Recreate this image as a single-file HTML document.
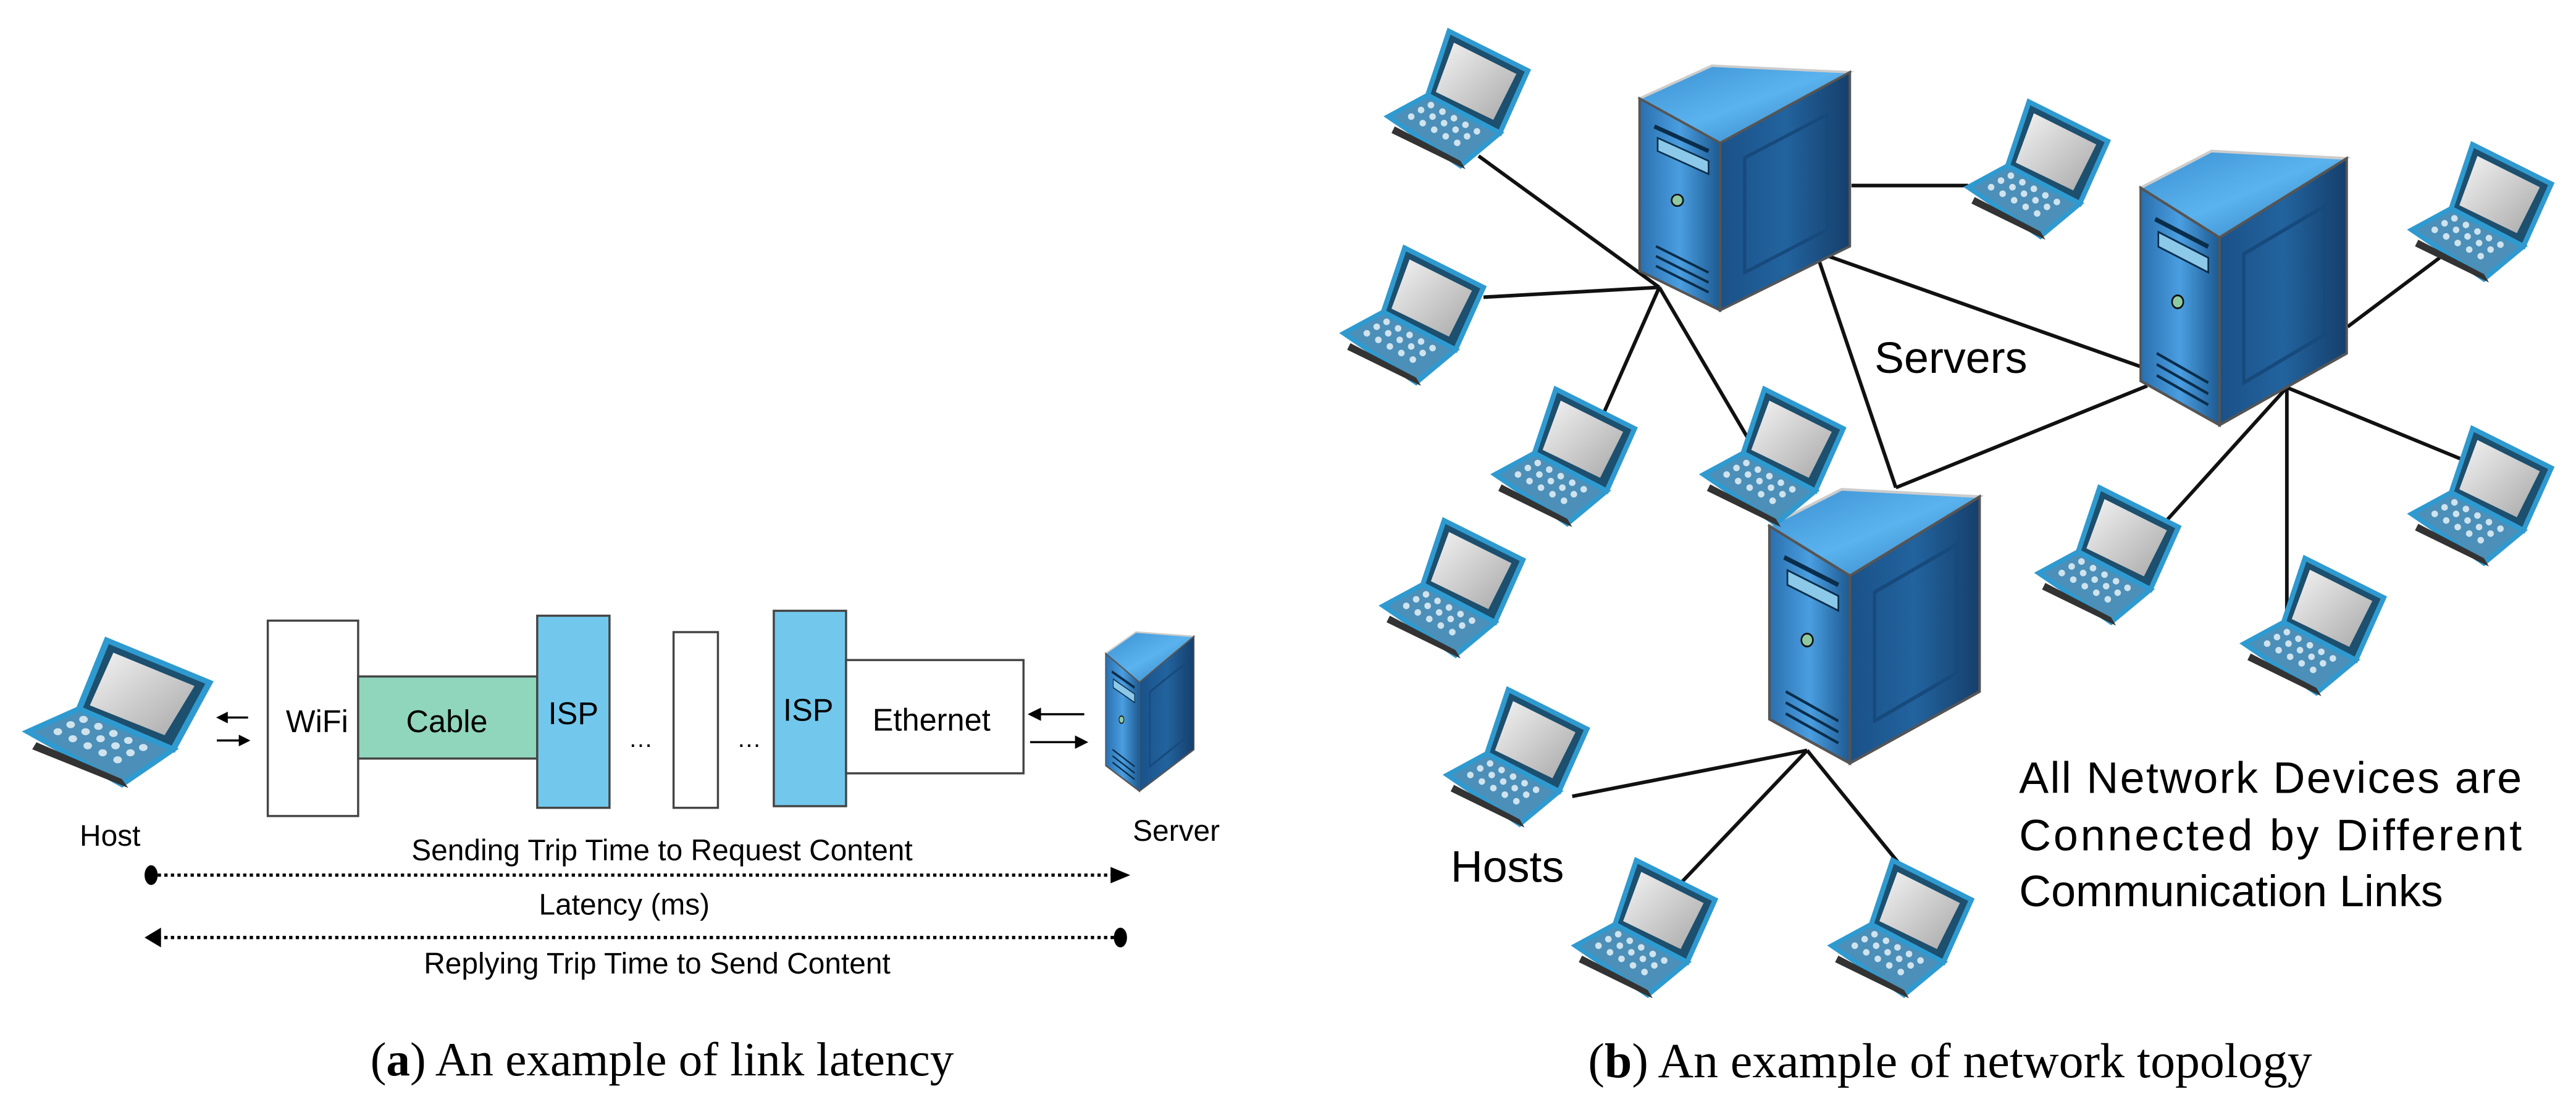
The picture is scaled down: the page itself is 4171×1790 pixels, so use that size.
<!DOCTYPE html>
<html><head><meta charset="utf-8"><style>
html,body{margin:0;padding:0;background:#fff;}
svg{display:block;}
text{font-family:"Liberation Sans",sans-serif;fill:#000;}
.serif{font-family:"Liberation Serif",serif;}
</style></head><body>
<svg width="4171" height="1790" viewBox="0 0 1568 673" preserveAspectRatio="none" xmlns="http://www.w3.org/2000/svg">
<defs>
<linearGradient id="lf" x1="0" x2="1"><stop offset="0" stop-color="#2a6fae"/><stop offset=".5" stop-color="#4a9ee0"/><stop offset="1" stop-color="#1d5a92"/></linearGradient>
<linearGradient id="rf" x1="0" x2="1"><stop offset="0" stop-color="#1b5188"/><stop offset=".5" stop-color="#22639e"/><stop offset="1" stop-color="#163f6c"/></linearGradient>
<linearGradient id="tf" x1="0" x2="1" y1="0" y2="1"><stop offset="0" stop-color="#3b8fd0"/><stop offset=".5" stop-color="#5ab3ee"/><stop offset="1" stop-color="#2a78b8"/></linearGradient>
<linearGradient id="scr" x1="0" x2="1" y1="0" y2="1"><stop offset="0" stop-color="#f4f4f4"/><stop offset="1" stop-color="#a8a8a8"/></linearGradient>
<g id="srv">
<polygon points="0,20 44,0 128,4 49,47" fill="url(#tf)" stroke="#ccc" stroke-width="1.5"/>
<polygon points="0,20 49,47 49,149 0,125" fill="url(#lf)" stroke="#555" stroke-width="1.5"/>
<polygon points="49,47 128,4 128,110 49,149" fill="url(#rf)" stroke="#555" stroke-width="1.5"/>
<polygon points="64,56 114,30 114,100 64,126" fill="none" stroke="#174a7c" stroke-width="2"/>
<line x1="9" y1="37" x2="42" y2="52" stroke="#0a2d4a" stroke-width="2.5"/>
<polygon points="11,44 42,58 42,66 11,52" fill="#8cc8e8" stroke="#0a2d4a"/>
<circle cx="23" cy="82" r="3.5" fill="#8fc9a0" stroke="#111"/>
<line x1="10" y1="110" x2="42" y2="126" stroke="#0a2d4a" stroke-width="1.5"/>
<line x1="10" y1="116" x2="42" y2="132" stroke="#0a2d4a" stroke-width="1.5"/>
<line x1="10" y1="122" x2="42" y2="138" stroke="#0a2d4a" stroke-width="1.5"/>
</g>
<g id="lap">
<polygon points="37,0 85,24 68,62 24,39" fill="#1d4f6e" stroke="#2f9ad0" stroke-width="3"/>
<polygon points="40,7 78,26 64,54 29,37" fill="url(#scr)"/>
<polygon points="0,52 24,39 68,62 44,82" fill="#4c8fb8" stroke="#2f9ad0" stroke-width="3"/>
<polygon points="4,58 44,79 47,84 2,62" fill="#333"/>
<g fill="#cfe3ee">
<circle cx="14" cy="52" r="2"/><circle cx="21" cy="56" r="2"/><circle cx="28" cy="60" r="2"/><circle cx="35" cy="64" r="2"/><circle cx="42" cy="68" r="2"/>
<circle cx="20" cy="48" r="2"/><circle cx="27" cy="52" r="2"/><circle cx="34" cy="56" r="2"/><circle cx="41" cy="60" r="2"/><circle cx="48" cy="64" r="2"/>
<circle cx="26" cy="45" r="2"/><circle cx="33" cy="49" r="2"/><circle cx="40" cy="53" r="2"/><circle cx="47" cy="57" r="2"/><circle cx="54" cy="61" r="2"/>
</g>
</g>
</defs>

<!-- Panel a -->
<g>
<use href="#lap" transform="translate(17,390) scale(1.3,1.07)"/>
<text x="67" y="515" font-size="18" text-anchor="middle">Host</text>
<g stroke="#000" stroke-width="1.3" fill="#000">
<line x1="136" y1="437" x2="151" y2="437"/><polygon points="133,437 138,434.5 138,439.5"/>
<line x1="132" y1="451" x2="147" y2="451"/><polygon points="151,451 146,448.5 146,453.5"/>
<line x1="630" y1="435" x2="660" y2="435"/><polygon points="627,435 633,432 633,438"/>
<line x1="627" y1="452" x2="657" y2="452"/><polygon points="661,452 655,449 655,455"/>
</g>
<rect x="163" y="378" width="55" height="119" fill="#fff" stroke="#444" stroke-width="1.3"/>
<rect x="218" y="412" width="109" height="50" fill="#8fd6bd" stroke="#444" stroke-width="1.3"/>
<rect x="327" y="375" width="44" height="117" fill="#72c8ec" stroke="#444" stroke-width="1.3"/>
<rect x="410" y="385" width="27" height="107" fill="#fff" stroke="#444" stroke-width="1.3"/>
<rect x="471" y="372" width="44" height="119" fill="#72c8ec" stroke="#444" stroke-width="1.3"/>
<rect x="515" y="402" width="108" height="69" fill="#fff" stroke="#444" stroke-width="1.3"/>
<text x="193" y="446" font-size="19" text-anchor="middle">WiFi</text>
<text x="272" y="446" font-size="19" text-anchor="middle">Cable</text>
<text x="349" y="441" font-size="19" text-anchor="middle">ISP</text>
<text x="492" y="439" font-size="19" text-anchor="middle">ISP</text>
<text x="567" y="445" font-size="19" text-anchor="middle">Ethernet</text>
<text x="390" y="455" font-size="15" text-anchor="middle">…</text>
<text x="456" y="455" font-size="15" text-anchor="middle">…</text>
<use href="#srv" transform="translate(673,385) scale(0.42,0.65)"/>
<text x="716" y="512" font-size="18" text-anchor="middle">Server</text>
<text x="403" y="524" font-size="18" text-anchor="middle">Sending Trip Time to Request Content</text>
<text x="380" y="557" font-size="18" text-anchor="middle">Latency (ms)</text>
<text x="400" y="593" font-size="18" text-anchor="middle">Replying Trip Time to Send Content</text>
<line x1="92" y1="533" x2="682" y2="533" stroke="#000" stroke-width="2" stroke-dasharray="2,2"/>
<line x1="92" y1="571" x2="682" y2="571" stroke="#000" stroke-width="2" stroke-dasharray="2,2"/>
<g fill="#000">
<ellipse cx="92" cy="533" rx="4" ry="6"/><polygon points="676,528 688,533 676,538"/>
<polygon points="88,571 98,565 98,577"/><ellipse cx="682" cy="571" rx="4" ry="6"/>
</g>
<text x="403" y="655" font-size="29" text-anchor="middle" class="serif">(<tspan font-weight="bold">a</tspan>) An example of link latency</text>
</g>

<!-- Panel b lines -->
<g stroke="#111" stroke-width="2.2">
<line x1="1010" y1="175" x2="900" y2="95"/>
<line x1="1010" y1="175" x2="903" y2="181"/>
<line x1="1010" y1="175" x2="976" y2="252"/>
<line x1="1010" y1="175" x2="1064" y2="267"/>
<line x1="1106" y1="155" x2="1154" y2="297"/>
<line x1="1110" y1="155" x2="1305" y2="224"/>
<line x1="1127" y1="113" x2="1198" y2="113"/>
<line x1="1154" y1="297" x2="1307" y2="235"/>
<line x1="1429" y1="199" x2="1485" y2="157"/>
<line x1="1392" y1="236" x2="1317" y2="319"/>
<line x1="1392" y1="236" x2="1392" y2="373"/>
<line x1="1392" y1="236" x2="1504" y2="282"/>
<line x1="1100" y1="457" x2="957" y2="485"/>
<line x1="1100" y1="457" x2="1022" y2="539"/>
<line x1="1100" y1="457" x2="1156" y2="526"/>
</g>
<use href="#srv" transform="translate(998,40)"/>
<use href="#srv" transform="translate(1303,92) scale(0.98,1.12)"/>
<use href="#srv" transform="translate(1077,298) scale(1,1.12)"/>
<use href="#lap" transform="translate(845,19)"/>
<use href="#lap" transform="translate(1198,62)"/>
<use href="#lap" transform="translate(818,151)"/>
<use href="#lap" transform="translate(1468,88)"/>
<use href="#lap" transform="translate(910,237)"/>
<use href="#lap" transform="translate(1037,237)"/>
<use href="#lap" transform="translate(842,317)"/>
<use href="#lap" transform="translate(1241,297)"/>
<use href="#lap" transform="translate(1468,261)"/>
<use href="#lap" transform="translate(1366,340)"/>
<use href="#lap" transform="translate(881,420)"/>
<use href="#lap" transform="translate(959,524)"/>
<use href="#lap" transform="translate(1115,524)"/>
<text x="1141" y="227" font-size="27">Servers</text>
<text x="883" y="537" font-size="27">Hosts</text>
<text x="1229" y="483" font-size="27" textLength="306">All Network Devices are</text>
<text x="1229" y="518" font-size="27" textLength="306">Connected  by  Different</text>
<text x="1229" y="552" font-size="27">Communication Links</text>
<text x="1187" y="656" font-size="30" text-anchor="middle" class="serif">(<tspan font-weight="bold">b</tspan>) An example of network topology</text>
</svg>
</body></html>
